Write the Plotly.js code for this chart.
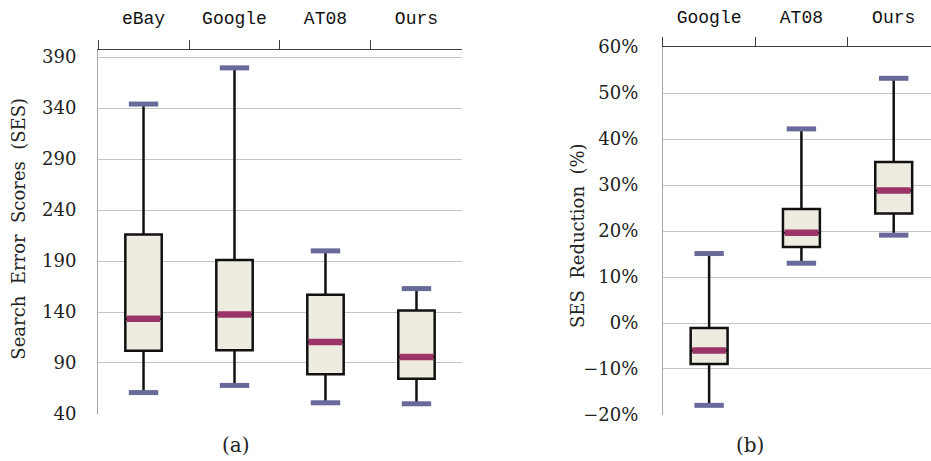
<!DOCTYPE html>
<html>
<head>
<meta charset="utf-8">
<script src="https://cdn.plot.ly/plotly-3.0.1.min.js"></script>
<style>
  html, body { margin: 0; padding: 0; overflow: hidden; background: #fff; }
  #chart { width: 931px; height: 461px; }
</style>
</head>
<body>
<div id="chart"></div>
<script>
// Panel (a): Search Error Scores
const catsA = ['eBay', 'Google', 'AT08', 'Ours'];
const lowA  = [61, 68, 51, 50];
const q1A   = [102, 102.5, 79, 74.5];
const medA  = [133.5, 137.5, 110.5, 96];
const q3A   = [216, 191, 157, 141.5];
const highA = [344, 379.5, 200, 163];

// Panel (b): SES Reduction (%)
const catsB = ['Google', 'AT08', 'Ours'];
const lowB  = [-17.9, 13.0, 19.1];
const q1B   = [-8.9, 16.5, 23.8];
const medB  = [-6.0, 19.6, 28.8];
const q3B   = [-1.1, 24.8, 35.0];
const highB = [15.1, 42.2, 53.2];

const boxFill = '#eeebe1';
const boxLine = '#111111';
const medColor = '#9b3467';
const capColor = '#6a6a9a';

function boxTrace(cats, lo, q1, med, q3, hi, xa, ya) {
  return {
    type: 'box', x: cats, lowerfence: lo, q1: q1, median: med, q3: q3, upperfence: hi,
    xaxis: xa, yaxis: ya, width: 0.4, whiskerwidth: 0, boxpoints: false,
    fillcolor: boxFill, line: {color: boxLine, width: 2.5}, hoverinfo: 'skip'
  };
}
// line-ew marker length is 1.4 * size
function medTrace(cats, med, xa, ya) {
  return {
    type: 'scatter', mode: 'markers', x: cats, y: med, xaxis: xa, yaxis: ya,
    marker: {symbol: 'line-ew', size: 24, line: {color: medColor, width: 6.5}}, hoverinfo: 'skip'
  };
}
function capTrace(cats, lo, hi, xa, ya) {
  return {
    type: 'scatter', mode: 'markers', x: cats.concat(cats), y: lo.concat(hi), xaxis: xa, yaxis: ya,
    marker: {symbol: 'line-ew', size: 21, line: {color: capColor, width: 5}}, hoverinfo: 'skip'
  };
}

const data = [
  boxTrace(catsA, lowA, q1A, medA, q3A, highA, 'x', 'y'),
  medTrace(catsA, medA, 'x', 'y'),
  capTrace(catsA, lowA, highA, 'x', 'y'),
  boxTrace(catsB, lowB, q1B, medB, q3B, highB, 'x2', 'y2'),
  medTrace(catsB, medB, 'x2', 'y2'),
  capTrace(catsB, lowB, highB, 'x2', 'y2')
];

const catFont = {family: 'Liberation Mono, DejaVu Sans Mono, monospace', size: 18, color: '#111'};
const numFont = {family: 'DejaVu Serif, serif', size: 18, color: '#222'};

const xCommon = {
  type: 'category', side: 'top', showline: true, linecolor: '#404040', linewidth: 1,
  ticks: 'outside', tickson: 'boundaries', ticklen: 9, tickcolor: '#404040', tickwidth: 1,
  showgrid: false, zeroline: false, tickfont: catFont, ticklabelstandoff: 18, fixedrange: true
};
const yCommon = {
  showline: true, linecolor: '#a6a6a6', linewidth: 1, ticks: '', gridcolor: '#c4c4c4', gridwidth: 1,
  zeroline: false, tickfont: numFont, ticklabelstandoff: 17, fixedrange: true
};

const layout = {
  width: 931, height: 461,
  margin: {l: 0, r: 0, t: 0, b: 0},
  paper_bgcolor: '#ffffff', plot_bgcolor: '#ffffff',
  showlegend: false,
  xaxis: Object.assign({}, xCommon, {domain: [0.1053, 0.4962], anchor: 'y', range: [-0.5, 3.5]}),
  yaxis: Object.assign({}, yCommon, {domain: [0.102, 0.8915], anchor: 'x', range: [40, 397], tick0: 40, dtick: 50}),
  xaxis2: Object.assign({}, xCommon, {domain: [0.7121, 1], anchor: 'y2', range: [-0.5, 2.404], ticklabelstandoff: 16}),
  yaxis2: Object.assign({}, yCommon, {domain: [0.0998, 0.898], anchor: 'x2', range: [-20, 60], tick0: 0, dtick: 10, ticksuffix: '%', ticklabelstandoff: 20}),
  annotations: [
    {text: '(a)', xref: 'paper', yref: 'paper', x: 0.2535, y: 0.0347, xanchor: 'center', yanchor: 'middle',
     showarrow: false, font: {family: 'DejaVu Serif, serif', size: 20, color: '#222'}},
    {text: '(b)', xref: 'paper', yref: 'paper', x: 0.8056, y: 0.0347, xanchor: 'center', yanchor: 'middle',
     showarrow: false, font: {family: 'DejaVu Serif, serif', size: 20, color: '#222'}},
    {text: 'Search&nbsp; Error&nbsp; Scores&nbsp; (SES)', xref: 'paper', yref: 'paper', x: 0.0199, y: 0.503,
     xanchor: 'center', yanchor: 'middle', textangle: -90, showarrow: false,
     font: {family: 'DejaVu Serif, serif', size: 18, color: '#222'}},
    {text: 'SES&nbsp; Reduction&nbsp; (%)', xref: 'paper', yref: 'paper', x: 0.6198, y: 0.488,
     xanchor: 'center', yanchor: 'middle', textangle: -90, showarrow: false,
     font: {family: 'DejaVu Serif, serif', size: 18, color: '#222'}}
  ]
};

Plotly.newPlot('chart', data, layout, {displayModeBar: false, staticPlot: true});
</script>
</body>
</html>
